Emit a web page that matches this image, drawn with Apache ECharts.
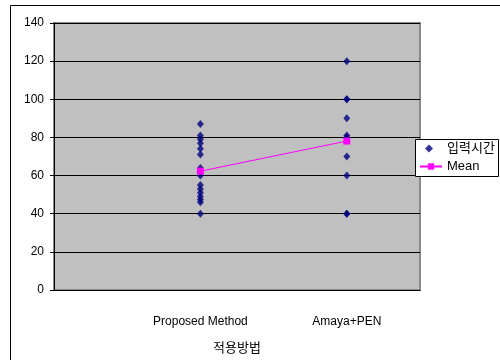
<!DOCTYPE html>
<html>
<head>
<meta charset="utf-8">
<script src="https://cdn.jsdelivr.net/npm/echarts@6/dist/echarts.min.js"></script>
<style>
  html, body { margin: 0; padding: 0; background: #fff; }
  #chart { width: 500px; height: 360px; }
</style>
</head>
<body>
<div id="chart"></div>
<script>
// Input-time observations per method, mean per method
const categories = ['Proposed Method', 'Amaya+PEN'];
const proposedTimes = [87, 81, 79, 77, 74, 71, 64, 60, 55, 53, 51, 49, 47.5, 46, 40];
const amayaTimes = [120, 100, 100, 90, 81, 80, 70, 60, 40, 40];
const meanTimes = [62.3, 78.1];
const yTicks = [0, 20, 40, 60, 80, 100, 120, 140];
const seriesNames = ['입력시간', 'Mean'];
const xAxisTitle = '적용방법';

const FONT = '"Liberation Sans", Arial, "Noto Sans CJK KR", sans-serif';

// categories sit at x = 1, 2 on a 0..2.5 value axis
const obsData = []
  .concat(proposedTimes.map(v => [1, v]))
  .concat(amayaTimes.map(v => [2, v]));
const meanData = meanTimes.map((v, i) => [i + 1, v]);

const legendText = { fontFamily: FONT, fontSize: 13, color: '#000' };

const chart = echarts.init(document.getElementById('chart'), null, { renderer: 'canvas' });
chart.setOption({
  animation: false,
  backgroundColor: '#ffffff',
  textStyle: { fontFamily: FONT },
  graphic: [
    {
      // outer chart frame
      type: 'rect',
      shape: { x: 10.5, y: 5.5, width: 600, height: 600 },
      style: { fill: 'none', stroke: '#000', lineWidth: 1 },
      z: -10
    },
    {
      // legend box
      type: 'rect',
      shape: { x: 415.5, y: 139.5, width: 83, height: 37 },
      style: { fill: '#ffffff', stroke: '#000', lineWidth: 1 },
      z: 5
    }
  ],
  grid: {
    left: 54, right: 80, top: 23, bottom: 69,
    show: true,
    backgroundColor: '#C0C0C0',
    borderColor: '#8a8a8a',
    borderWidth: 2
  },
  legend: [
    {
      left: 425, top: 142,
      padding: 0,
      itemWidth: 8,
      itemHeight: 8,
      z: 6,
      textStyle: Object.assign({ padding: [0, 0, 0, 9] }, legendText),
      data: [{ name: seriesNames[0], icon: 'diamond' }]
    },
    {
      left: 419, top: 160,
      padding: 0,
      itemWidth: 22,
      itemHeight: 8,
      z: 6,
      textStyle: legendText,
      data: [seriesNames[1]]
    }
  ],
  xAxis: {
    type: 'value',
    min: 0, max: 2.5, interval: 0.5,
    name: xAxisTitle,
    nameLocation: 'middle',
    nameGap: 52,
    nameTextStyle: { fontFamily: FONT, fontSize: 13, color: '#000' },
    axisLine: { show: true, lineStyle: { color: '#000', width: 1 } },
    axisTick: { show: false },
    splitLine: { show: false },
    axisLabel: {
      margin: 26,
      fontSize: 12,
      color: '#000',
      fontFamily: FONT,
      showMinLabel: true,
      showMaxLabel: true,
      formatter: v => (v === 1 ? categories[0] : v === 2 ? categories[1] : '')
    }
  },
  yAxis: {
    type: 'value',
    min: yTicks[0], max: yTicks[yTicks.length - 1], interval: 20,
    axisLine: { show: true, lineStyle: { color: '#000', width: 1 } },
    axisTick: { show: true, length: 4, inside: false, lineStyle: { color: '#000' } },
    axisLabel: { margin: 10, fontSize: 12, color: '#000', fontFamily: FONT },
    splitLine: { show: true, lineStyle: { color: '#000', width: 1 } }
  },
  series: [
    {
      name: seriesNames[0],
      type: 'scatter',
      symbol: 'diamond',
      symbolSize: [7, 8],
      itemStyle: { color: '#000080' },
      data: obsData,
      z: 3
    },
    {
      name: seriesNames[1],
      type: 'line',
      symbol: 'rect',
      symbolSize: 7,
      showAllSymbol: true,
      lineStyle: { color: '#FF00FF', width: 1 },
      itemStyle: { color: '#FF00FF' },
      data: meanData,
      z: 4
    }
  ]
});
</script>
</body>
</html>
